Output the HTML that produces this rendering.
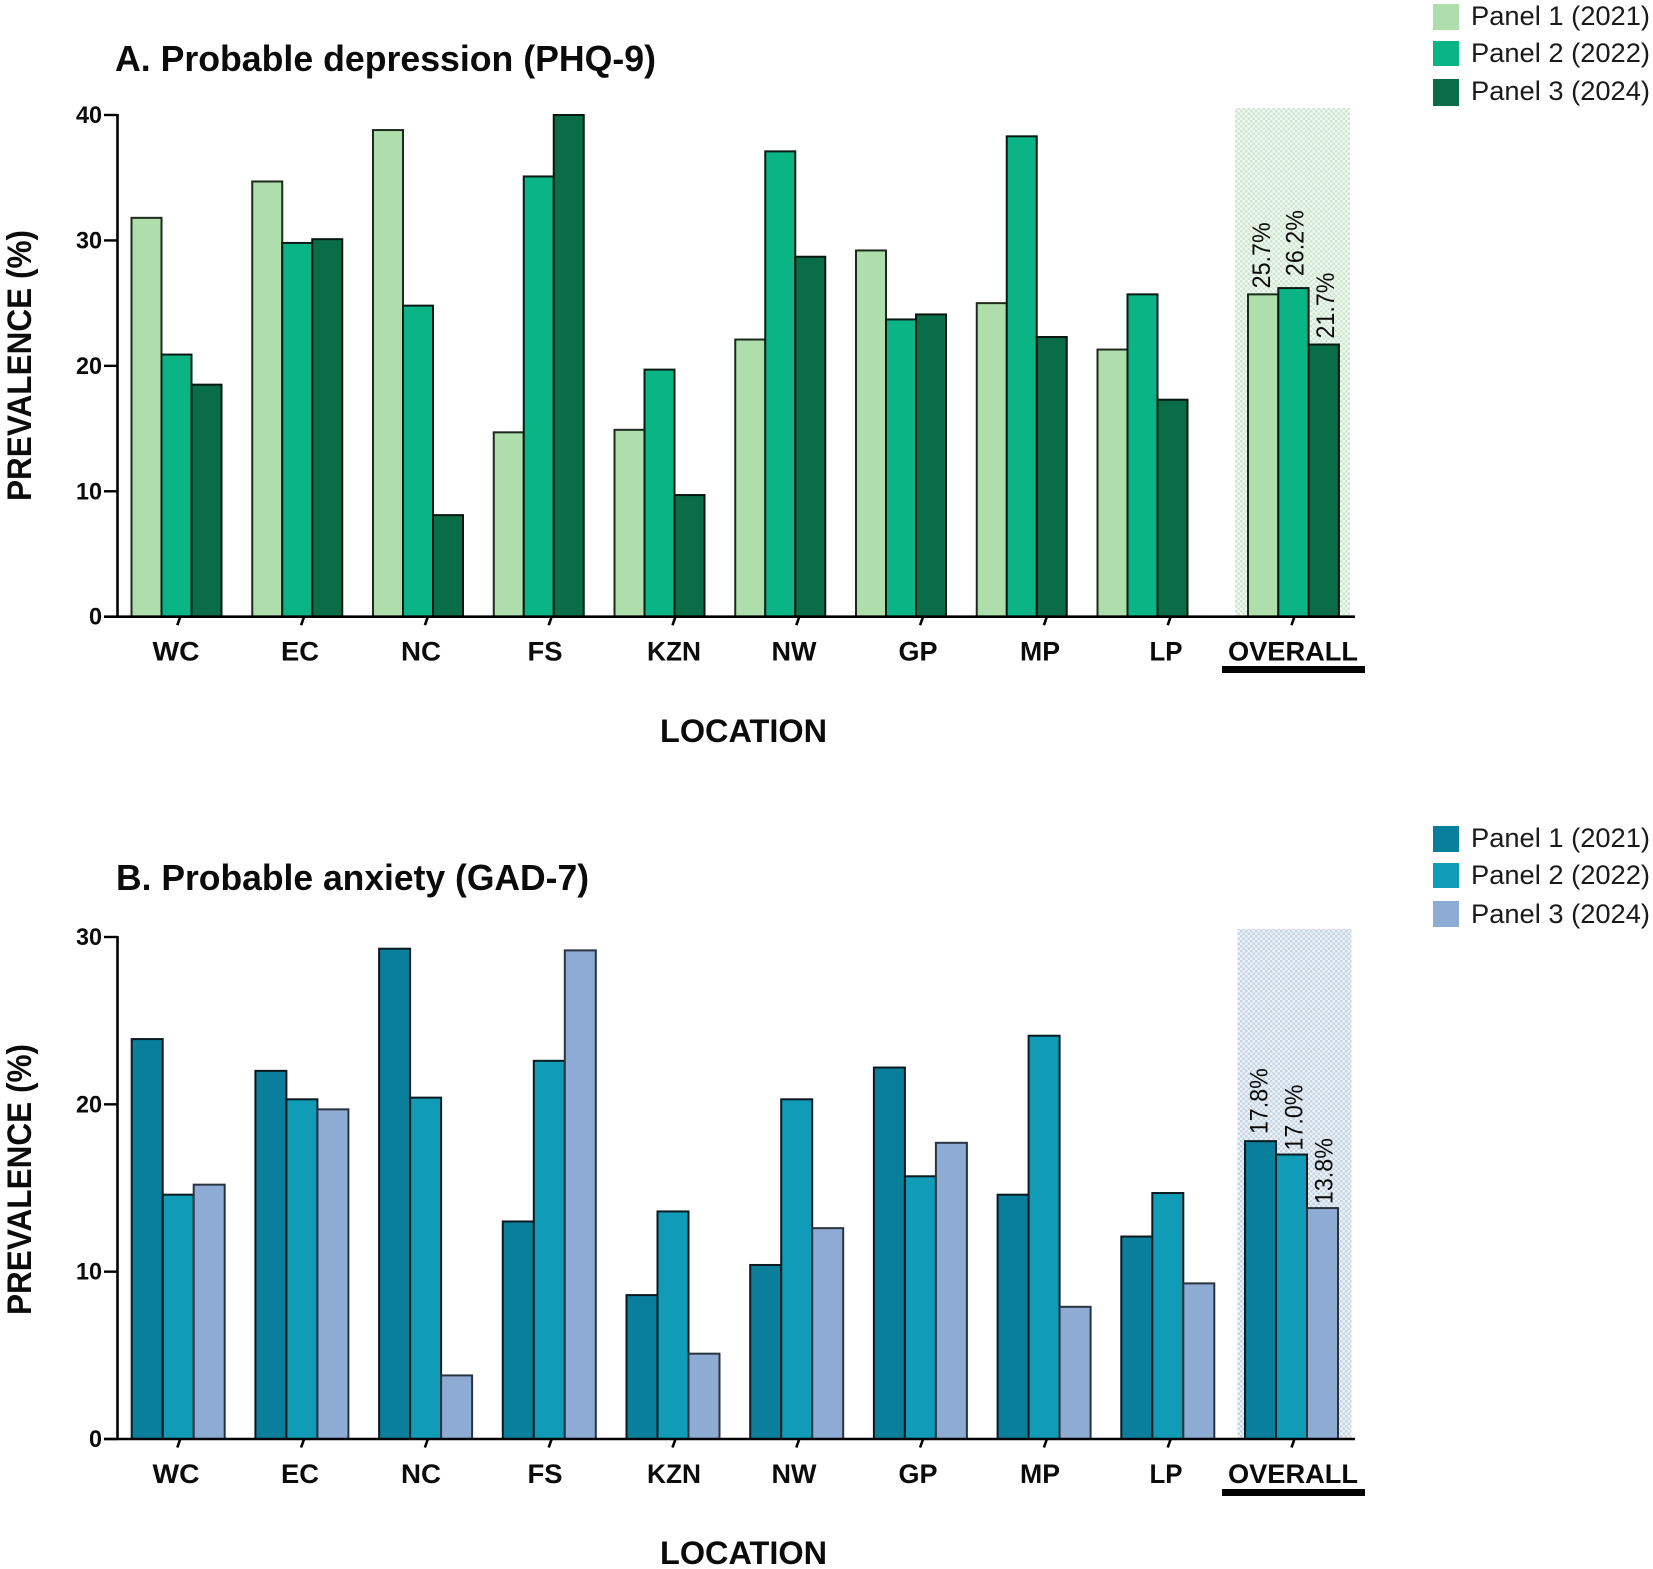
<!DOCTYPE html>
<html lang="en">
<head>
<meta charset="utf-8">
<title>Probable depression and anxiety prevalence by location</title>
<style>
html,body{margin:0;padding:0;background:#fff;width:1653px;height:1569px;overflow:hidden}
svg{display:block}
text{font-family:"Liberation Sans",Arial,sans-serif;fill:#0b0b0b}
.title{font-size:36px;font-weight:700}
.axis-title{font-size:34px;font-weight:700}
.loc-title{font-size:32px;font-weight:700}
.tick{font-size:24px;font-weight:700}
.cat{font-size:26.5px;font-weight:700}
.legend{font-size:27px;fill:#1a1a1a}
.value{font-size:25px}
</style>
</head>
<body>
<svg id="figure" xmlns="http://www.w3.org/2000/svg" width="1653" height="1569" viewBox="0 0 1653 1569">
  <defs>
    <pattern id="dither-green" width="5" height="5" patternUnits="userSpaceOnUse">
      <rect width="5" height="5" fill="#f2f8f2"/>
      <rect width="2.5" height="2.5" fill="#cfe7d0"/>
      <rect x="2.5" y="2.5" width="2.5" height="2.5" fill="#cfe7d0"/>
    </pattern>
    <pattern id="dither-blue" width="5" height="5" patternUnits="userSpaceOnUse">
      <rect width="5" height="5" fill="#eef3f8"/>
      <rect width="2.5" height="2.5" fill="#c5d5e4"/>
      <rect x="2.5" y="2.5" width="2.5" height="2.5" fill="#c5d5e4"/>
    </pattern>
  </defs>

  <g id="chart-a">
    <text class="title" x="115" y="71" textLength="541" lengthAdjust="spacingAndGlyphs">A. Probable depression (PHQ-9)</text>
    <text class="axis-title" transform="translate(31,501) rotate(-90)" textLength="271" lengthAdjust="spacingAndGlyphs">PREVALENCE (%)</text>
    <text class="loc-title" x="660" y="742" textLength="167" lengthAdjust="spacingAndGlyphs">LOCATION</text>
    <rect x="1222" y="666" width="143" height="7" fill="#000"/>
    <g>
      <g>
        <rect x="1433" y="4" width="26" height="26" fill="#aedeab"/>
        <text class="legend" x="1471" y="25" textLength="179" lengthAdjust="spacingAndGlyphs">Panel 1 (2021)</text>
      </g>
      <g>
        <rect x="1433" y="41" width="26" height="25" fill="#0ab484"/>
        <text class="legend" x="1471" y="62" textLength="179" lengthAdjust="spacingAndGlyphs">Panel 2 (2022)</text>
      </g>
      <g>
        <rect x="1433" y="79" width="26" height="27" fill="#096d47"/>
        <text class="legend" x="1471" y="100" textLength="179" lengthAdjust="spacingAndGlyphs">Panel 3 (2024)</text>
      </g>
    </g>
  </g>

  <g id="chart-b">
    <text class="title" x="116" y="890" textLength="473" lengthAdjust="spacingAndGlyphs">B. Probable anxiety (GAD-7)</text>
    <text class="axis-title" transform="translate(31,1315) rotate(-90)" textLength="271" lengthAdjust="spacingAndGlyphs">PREVALENCE (%)</text>
    <text class="loc-title" x="660" y="1564" textLength="167" lengthAdjust="spacingAndGlyphs">LOCATION</text>
    <rect x="1222" y="1489" width="143" height="7" fill="#000"/>
    <g>
      <g>
        <rect x="1433" y="826" width="26" height="26" fill="#0a7f9c"/>
        <text class="legend" x="1471" y="847" textLength="179" lengthAdjust="spacingAndGlyphs">Panel 1 (2021)</text>
      </g>
      <g>
        <rect x="1433" y="863" width="26" height="25" fill="#109bb7"/>
        <text class="legend" x="1471" y="884" textLength="179" lengthAdjust="spacingAndGlyphs">Panel 2 (2022)</text>
      </g>
      <g>
        <rect x="1433" y="901" width="26" height="26" fill="#8eabd4"/>
        <text class="legend" x="1471" y="923" textLength="179" lengthAdjust="spacingAndGlyphs">Panel 3 (2024)</text>
      </g>
    </g>
  </g>
</svg>

<script>
// Shared categories
const categories = ["WC", "EC", "NC", "FS", "KZN", "NW", "GP", "MP", "LP", "OVERALL"];
const panelNames = ["panel-1", "panel-2", "panel-3"];

// Chart A: probable depression (PHQ-9)
const depressionPanel1 = [31.8, 34.7, 38.8, 14.7, 14.9, 22.1, 29.2, 25.0, 21.3, 25.7];
const depressionPanel2 = [20.9, 29.8, 24.8, 35.1, 19.7, 37.1, 23.7, 38.3, 25.7, 26.2];
const depressionPanel3 = [18.5, 30.1, 8.1, 40.0, 9.7, 28.7, 24.1, 22.3, 17.3, 21.7];
const depressionTicks = [0, 10, 20, 30, 40];

// Chart B: probable anxiety (GAD-7)
const anxietyPanel1 = [23.9, 22.0, 29.3, 13.0, 8.6, 10.4, 22.2, 14.6, 12.1, 17.8];
const anxietyPanel2 = [14.6, 20.3, 20.4, 22.6, 13.6, 20.3, 15.7, 24.1, 14.7, 17.0];
const anxietyPanel3 = [15.2, 19.7, 3.8, 29.2, 5.1, 12.6, 17.7, 7.9, 9.3, 13.8];
const anxietyTicks = [0, 10, 20, 30];

const SVG_NS = "http://www.w3.org/2000/svg";

function make(tag, parent, attrs) {
  const el = document.createElementNS(SVG_NS, tag);
  Object.keys(attrs).forEach(function (k) { el.setAttribute(k, attrs[k]); });
  parent.appendChild(el);
  return el;
}

function drawChart(root, cfg) {
  const maxTick = cfg.ticks[cfg.ticks.length - 1];
  const yScale = function (v) { return cfg.base - (v / maxTick) * (cfg.base - cfg.top); };
  const overallIndex = categories.length - 1;
  const barLeft = function (i, s) {
    if (i === overallIndex) return cfg.overallX + s * cfg.overallW;
    return cfg.groupX + i * cfg.period + s * cfg.barW;
  };
  const barWidth = function (i) { return i === overallIndex ? cfg.overallW : cfg.barW; };
  const tickX = function (i) { return 178.6 + 123.8 * i; };
  const labelX = function (i) { return 176 + 124 * i + cfg.catNudge[i]; };

  const band = make("rect", root, { x: cfg.bandX, y: cfg.bandTop, width: cfg.bandW, height: cfg.base - cfg.bandTop, fill: cfg.bandFill });
  
  

  cfg.series.forEach(function (values, s) {
    values.forEach(function (v, i) {
      const bar = make("rect", root, {
        x: barLeft(i, s),
        y: yScale(v),
        width: barWidth(i),
        height: cfg.base - yScale(v),
        fill: cfg.colors[s],
        stroke: cfg.strokes[s],
        "stroke-width": 2
      });
      
      

      if (i === overallIndex) {
        const tx = barLeft(i, s) + barWidth(i) / 2 + cfg.labelDx[s];
        const ty = yScale(v) - cfg.labelGap[s];
        const label = make("text", root, {
          class: "value",
          transform: "translate(" + tx + "," + ty + ") rotate(-90)",
          textLength: 66,
          lengthAdjust: "spacingAndGlyphs"
        });
        label.textContent = v.toFixed(1) + "%";
        
        
      }
    });
  });

  const yAxis = make("line", root, { x1: 117.5, x2: 117.5, y1: cfg.top - 1, y2: cfg.base + 1, stroke: "#000", "stroke-width": 2.6 });
  
  

  const xAxis = make("line", root, { x1: 104, x2: 1355, y1: cfg.base, y2: cfg.base, stroke: "#000", "stroke-width": 2.6 });
  
  

  cfg.ticks.forEach(function (t) {
    const tick = make("line", root, { x1: 104, x2: 117.5, y1: yScale(t), y2: yScale(t), stroke: "#000", "stroke-width": 2.4 });
    
    
    const label = make("text", root, { class: "tick", x: 102, y: yScale(t) + 8, "text-anchor": "end", textLength: String(t).length * 13, lengthAdjust: "spacingAndGlyphs" });
    label.textContent = String(t);
    
    
  });

  categories.forEach(function (c, i) {
    const tick = make("line", root, { x1: tickX(i) + 1.7, x2: tickX(i) - 1.3, y1: cfg.base, y2: cfg.base + 8.5, stroke: "#000", "stroke-width": 2.6 });
    
    
    const label = make("text", root, {
      class: "cat",
      x: labelX(i),
      y: cfg.base + 44,
      "text-anchor": "middle",
      textLength: cfg.catLen[i],
      lengthAdjust: "spacingAndGlyphs"
    });
    label.textContent = c;
    
    
  });
}

const catLen = [47, 38, 40, 35, 54, 45, 39, 40, 33, 130];
const catNudge = [0, 0, -3, -3, 2, -2, -2, -4, -2, 1];

drawChart(document.getElementById("chart-a"), {
  series: [depressionPanel1, depressionPanel2, depressionPanel3],
  ticks: depressionTicks,
  top: 115,
  base: 616.7,
  groupX: 131.5,
  period: 120.75,
  barW: 30,
  overallX: 1248,
  overallW: 30.3,
  bandX: 1235,
  bandW: 115,
  bandTop: 108,
  bandFill: "url(#dither-green)",
  colors: ["#aedeab", "#0ab484", "#096d47"],
  strokes: ["#1e2a1e", "#0a1a14", "#06180f"],
  labelDx: [7, 10, 10],
  labelGap: [6, 12, 6],
  catLen: catLen,
  catNudge: catNudge
});

drawChart(document.getElementById("chart-b"), {
  series: [anxietyPanel1, anxietyPanel2, anxietyPanel3],
  ticks: anxietyTicks,
  top: 937,
  base: 1439,
  groupX: 131.7,
  period: 123.7,
  barW: 31,
  overallX: 1245,
  overallW: 31,
  bandX: 1237.5,
  bandW: 114,
  bandTop: 929,
  bandFill: "url(#dither-blue)",
  colors: ["#0a7f9c", "#109bb7", "#8eabd4"],
  strokes: ["#0a1a20", "#0a1a20", "#2a3440"],
  labelDx: [7, 11, 10],
  labelGap: [7, 4, 4],
  catLen: catLen,
  catNudge: catNudge
});
</script>
</body>
</html>
